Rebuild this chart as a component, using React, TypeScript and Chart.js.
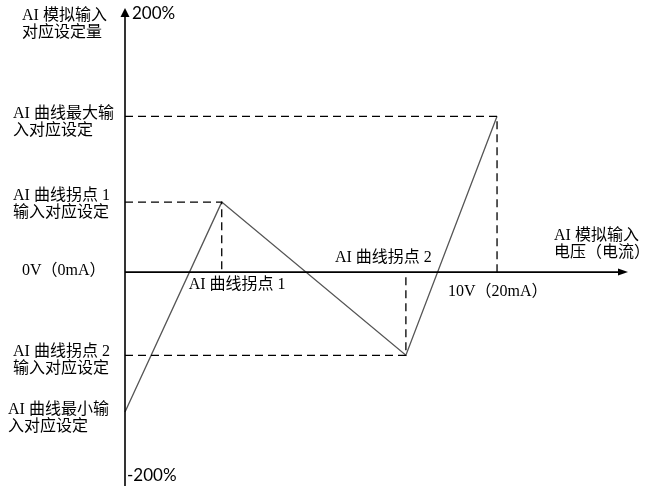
import React, { useEffect, useRef } from "react";
import { Chart, registerables } from "chart.js";

Chart.register(...registerables);

// Input axis (V): 0 .. 10 V ; knee points
const inputPoints = [0, 2.6, 7.55, 10];
// Output setting (%) at those inputs: min, knee1, knee2, max
const outputPoints = [-106, 53, -63, 118];
const X_MAX = 13.52;
const Y_MAX = 200;
const Y_MIN = -162;

const yTopLabel = ["AI 模拟输入", "对应设定量"];
const xEndLabel = ["AI 模拟输入", "电压（电流）"];
const maxLabel = ["AI 曲线最大输", "入对应设定"];
const knee1Label = ["AI 曲线拐点 1", "输入对应设定"];
const knee2Label = ["AI 曲线拐点 2", "输入对应设定"];
const minLabel = ["AI 曲线最小输", "入对应设定"];
const zeroLabel = "0V（0mA）";
const fullLabel = "10V（20mA）";
const knee1XLabel = "AI 曲线拐点 1";
const knee2XLabel = "AI 曲线拐点 2";
const topPct = "200%";
const bottomPct = "-200%";

const CJK_FONT = '16px "Liberation Serif", "Noto Sans CJK SC"';
const PCT_FONT = '17px Lato, "Liberation Sans"';

export default function App() {
  const ref = useRef<HTMLCanvasElement | null>(null);

  useEffect(() => {
    if (!ref.current) return;
    const [x0, xk1, xk2, x10] = inputPoints;
    const [yMin, yK1, yK2, yMaxSet] = outputPoints;

    const guide = (pts: { x: number; y: number }[]) => ({
      data: pts,
      showLine: true,
      borderColor: "#000",
      borderWidth: 1.3,
      borderDash: [8, 5],
      pointRadius: 0,
      clip: false as const,
    });

    const labelsPlugin = {
      id: "diagramLabels",
      afterDraw(chart: any) {
        const ctx = chart.ctx as CanvasRenderingContext2D;
        const xs = chart.scales.x;
        const ys = chart.scales.y;
        const px = (v: number) => xs.getPixelForValue(v);
        const py = (v: number) => ys.getPixelForValue(v);
        ctx.save();
        ctx.fillStyle = "#000";
        ctx.strokeStyle = "#000";

        // arrowheads
        const ax = px(0);
        const ayTop = py(Y_MAX);
        ctx.beginPath();
        ctx.moveTo(ax, ayTop);
        ctx.lineTo(ax - 4.5, ayTop + 9);
        ctx.lineTo(ax + 4.5, ayTop + 9);
        ctx.closePath();
        ctx.fill();
        const bx = px(X_MAX);
        const by = py(0);
        ctx.beginPath();
        ctx.moveTo(bx, by);
        ctx.lineTo(bx - 10, by - 3.5);
        ctx.lineTo(bx - 10, by + 3.5);
        ctx.closePath();
        ctx.fill();

        ctx.textBaseline = "middle";
        ctx.textAlign = "left";
        const put = (lines: string[] | string, xv: number, dx: number, yv: number, dy: number) => {
          const arr = Array.isArray(lines) ? lines : [lines];
          arr.forEach((t, i) => ctx.fillText(t, px(xv) + dx, py(yv) + dy + i * 17));
        };
        ctx.font = CJK_FONT;
        put(yTopLabel, x0, -103, Y_MAX, 8);
        put(maxLabel, x0, -112, yMaxSet, -2);
        put(knee1Label, x0, -112, yK1, -6);
        put(zeroLabel, x0, -103, 0, -1);
        put(knee1XLabel, xk1, -33, 0, 13);
        put(knee2XLabel, xk2, -71, 0, -14);
        put(fullLabel, x10, -49, 0, 20);
        put(xEndLabel, x10, 57, 0, -36);
        put(knee2Label, x0, -112, yK2, -3);
        put(minLabel, x0, -117, yMin, -2);
        ctx.font = PCT_FONT;
        put(topPct, x0, 7, Y_MAX, 6);
        put(bottomPct, x0, 2, Y_MIN, -10);
        ctx.restore();
      },
    };

    const chart = new Chart(ref.current, {
      type: "scatter",
      data: {
        datasets: [
          // axes
          {
            data: [{ x: 0, y: Y_MIN }, { x: 0, y: Y_MAX - 6 }],
            showLine: true,
            borderColor: "#000",
            borderWidth: 1.6,
            pointRadius: 0,
            clip: false,
          },
          {
            data: [{ x: 0, y: 0 }, { x: X_MAX - 0.2, y: 0 }],
            showLine: true,
            borderColor: "#000",
            borderWidth: 1.6,
            pointRadius: 0,
            clip: false,
          },
          guide([{ x: x0, y: yMaxSet }, { x: x10, y: yMaxSet }, { x: x10, y: 0 }]),
          guide([{ x: x0, y: yK1 }, { x: xk1, y: yK1 }, { x: xk1, y: 0 }]),
          guide([{ x: x0, y: yK2 }, { x: xk2, y: yK2 }, { x: xk2, y: 0 }]),
          {
            data: inputPoints.map((x, i) => ({ x, y: outputPoints[i] })),
            showLine: true,
            borderColor: "#555",
            borderWidth: 1.3,
            pointRadius: 0,
            clip: false,
          },
        ],
      },
      options: {
        animation: false,
        responsive: false,
        layout: { padding: { left: 125, right: 18, top: 8, bottom: 2 } },
        plugins: { legend: { display: false }, tooltip: { enabled: false } },
        scales: {
          x: { type: "linear", min: 0, max: X_MAX, display: false },
          y: { type: "linear", min: Y_MIN, max: Y_MAX, display: false },
        },
      },
      plugins: [labelsPlugin],
    });
    return () => chart.destroy();
  }, []);

  return (
    <div style={{ position: "fixed", left: 0, top: 0, width: 646, height: 488, background: "#fff" }}>
      <canvas ref={ref} width={646} height={488} style={{ width: 646, height: 488 }} />
    </div>
  );
}
